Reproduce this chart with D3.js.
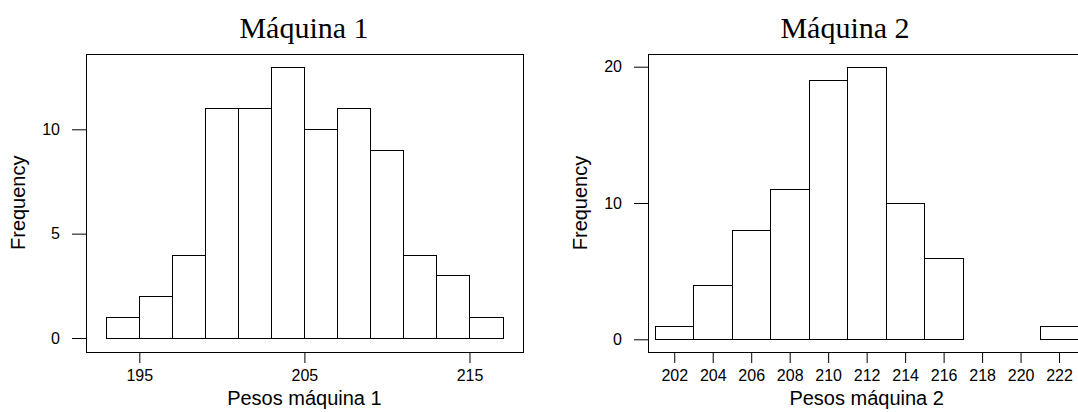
<!DOCTYPE html>
<html>
<head>
<meta charset="utf-8">
<script src="https://cdn.jsdelivr.net/npm/d3@7"></script>
<style>
  body { margin: 0; background: #fff; }
  text { fill: #000; }
</style>
</head>
<body>
<div id="chart"></div>
<script>
// histogram data
const edges1 = [193, 195, 197, 199, 201, 203, 205, 207, 209, 211, 213, 215, 217];
const counts1 = [1, 2, 4, 11, 11, 13, 10, 11, 9, 4, 3, 1];
const xTicks1 = [195, 205, 215];
const yTicks1 = [0, 5, 10];

const edges2 = [201, 203, 205, 207, 209, 211, 213, 215, 217, 219, 221, 223];
const counts2 = [1, 4, 8, 11, 19, 20, 10, 6, 0, 0, 1];
const xTicks2 = [202, 204, 206, 208, 210, 212, 214, 216, 218, 220, 222];
const yTicks2 = [0, 10, 20];

const titles = ["Máquina 1", "Máquina 2"];
const xLabels = ["Pesos máquina 1", "Pesos máquina 2"];

const svg = d3.select("#chart")
  .append("svg")
    .attr("width", 1078)
    .attr("height", 412);

const crisp = v => Math.round(v) + 0.5;

function panel(cfg) {
  const { edges, counts, xTicks, yTicks, box, x, y, title, xLabel, titleX } = cfg;
  const g = svg.append("g");

  // bars
  g.selectAll("rect.bar")
    .data(counts)
    .join("rect")
      .attr("class", "bar")
      .attr("x", (d, i) => crisp(x(edges[i])))
      .attr("width", (d, i) => Math.round(x(edges[i + 1])) - Math.round(x(edges[i])))
      .attr("y", d => crisp(y(d)))
      .attr("height", d => Math.round(y(0)) - Math.round(y(d)))
      .attr("fill", "#fff")
      .attr("stroke", "#000")
      .attr("stroke-width", 1);

  // frame
  g.append("rect")
    .attr("x", crisp(box.left))
    .attr("y", crisp(box.top))
    .attr("width", Math.round(box.right - box.left))
    .attr("height", Math.round(box.bottom - box.top))
    .attr("fill", "none")
    .attr("stroke", "#000");

  // x axis
  const xa = g.append("g")
    .attr("transform", `translate(0,${Math.round(box.bottom)})`)
    .call(d3.axisBottom(x).tickValues(xTicks).tickSize(11).tickPadding(7));
  xa.select(".domain").remove();
  xa.selectAll("text")
    .style("font-family", "'Liberation Sans', Arial, sans-serif")
    .style("font-size", "16px")
    .attr("fill", "#000");

  // y axis
  const ya = g.append("g")
    .attr("transform", `translate(${Math.round(box.left)},0)`)
    .call(d3.axisLeft(y).tickValues(yTicks).tickSize(14).tickPadding(12));
  ya.select(".domain").remove();
  ya.selectAll("text")
    .style("font-family", "'Liberation Sans', Arial, sans-serif")
    .style("font-size", "16px")
    .attr("fill", "#000");

  // titles and labels
  g.append("text")
    .attr("x", titleX)
    .attr("y", 38)
    .attr("text-anchor", "middle")
    .style("font-family", "'Liberation Serif', 'Times New Roman', serif")
    .style("font-size", "30px")
    .text(title);

  g.append("text")
    .attr("x", (x.range()[0] + x.range()[1]) / 2)
    .attr("y", 405)
    .attr("text-anchor", "middle")
    .style("font-family", "'Liberation Sans', Arial, sans-serif")
    .style("font-size", "20px")
    .text(xLabel);

  g.append("text")
    .attr("transform", `translate(${box.left - 61},${(box.top + box.bottom) / 2}) rotate(-90)`)
    .attr("text-anchor", "middle")
    .style("font-family", "'Liberation Sans', Arial, sans-serif")
    .style("font-size", "20px")
    .text("Frequency");
}

// left panel
const box1 = { left: 86, right: 523, top: 54, bottom: 351.5 };
panel({
  edges: edges1, counts: counts1, xTicks: xTicks1, yTicks: yTicks1, box: box1,
  x: d3.scaleLinear().domain([193, 217]).range([106.3, 502.5]),
  y: d3.scaleLinear().domain([0, 10]).range([338, 129.3]),
  title: titles[0], xLabel: xLabels[0], titleX: 304
});

// right panel (frame runs past the right edge)
const box2 = { left: 648, right: 1086, top: 54, bottom: 352 };
panel({
  edges: edges2, counts: counts2, xTicks: xTicks2, yTicks: yTicks2, box: box2,
  x: d3.scaleLinear().domain([201, 223]).range([655, 1078.3]),
  y: d3.scaleLinear().domain([0, 20]).range([339.3, 66.7]),
  title: titles[1], xLabel: xLabels[1], titleX: 845
});
</script>
</body>
</html>
